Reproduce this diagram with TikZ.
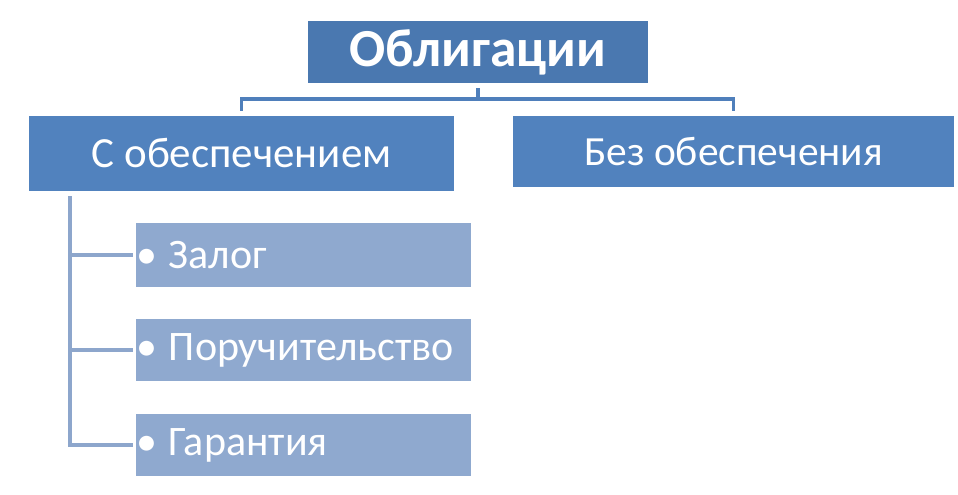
\documentclass[tikz,border=0pt]{standalone}
\usepackage{fontspec}
\setmainfont{Carlito}
\usetikzlibrary{calc}
\definecolor{topblue}{RGB}{74,120,176}
\definecolor{midblue}{RGB}{81,130,190}
\definecolor{subblue}{RGB}{143,169,207}
\definecolor{topline}{RGB}{79,127,187}
\definecolor{subline}{RGB}{141,166,204}
\newcommand{\blt}{\kern-2bp•\kern11bp}
\tikzset{
  box/.style={rectangle, inner sep=0pt, text=white},
  topbox/.style={box, fill=topblue, font=\fontsize{53.5bp}{60bp}\selectfont\bfseries},
  midbox/.style={box, fill=midblue, font=\fontsize{43bp}{50bp}\selectfont},
  subbox/.style={box, fill=subblue, font=\fontsize{42bp}{48bp}\selectfont, text width=329bp, align=left, minimum width=335bp, minimum height=62bp},
  tconn/.style={draw=topline, line width=3.5bp},
  sconn/.style={draw=subline, line width=3.5bp}
}
\begin{document}
\begin{tikzpicture}[x=1bp,y=-1bp]
\useasboundingbox (0,0) rectangle (958,495);
\node[topbox, minimum width=340bp, minimum height=62bp] (top) at (478,52) {Облигации};
\node[midbox, minimum width=425bp, minimum height=75bp] (lbox) at (241.5,153.5) {С обеспечением};
\node[midbox, minimum width=441bp, minimum height=71bp, font=\fontsize{41.5bp}{48bp}\selectfont] (rbox) at (733.5,151.5) {Без обеспечения};
\node[subbox, minimum height=64bp] (s1) at (303.5,255) {\blt Залог};
\node[subbox] (s2) at (303.5,350) {\blt Поручительство};
\node[subbox] (s3) at (303.5,445) {\blt Гарантия};
\coordinate (hb) at (477,99);
\draw[tconn] ($(top.south)+(0,5)$) -- (top.south |- hb);
\draw[tconn] ($(lbox.north)+(0,-5)$) |- (hb) -| ($(rbox.north)+(0,-5)$);
\coordinate (v) at ($(lbox.south west)+(41,5)$);
\draw[sconn] (v) |- ($(s3.west)+(-3,0)$);
\draw[sconn] (v |- s1.west) -- ($(s1.west)+(-3,0)$);
\draw[sconn] (v |- s2.west) -- ($(s2.west)+(-3,0)$);
\end{tikzpicture}
\end{document}
